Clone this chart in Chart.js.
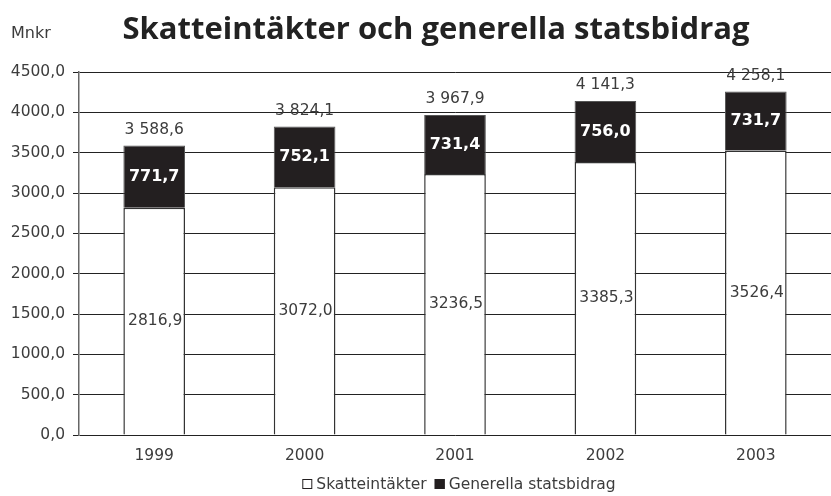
<!DOCTYPE html>
<html>
<head>
<meta charset="utf-8">
<script src="https://cdn.jsdelivr.net/npm/chart.js@4/dist/chart.umd.min.js"></script>
<style>
  html, body { margin: 0; padding: 0; background: #ffffff; }
  #wrap { width: 831px; height: 496px; position: relative; }
</style>
</head>
<body>
<div id="wrap"><canvas id="c" width="831" height="496"></canvas></div>
<script>
// Årtal och belopp (Mnkr)
const years = ['1999', '2000', '2001', '2002', '2003'];
const skatteintakter = [2816.9, 3072.0, 3236.5, 3385.3, 3526.4];
const statsbidrag = [771.7, 752.1, 731.4, 756.0, 731.7];
const yTicks = [0, 500, 1000, 1500, 2000, 2500, 3000, 3500, 4000, 4500];
const seriesNames = ['Skatteintäkter', 'Generella statsbidrag'];

const TEXT = '#3c3c3c';
const BASE_FONT = '"DejaVu Sans", "Open Sans", sans-serif';
const TITLE_FONT = '"Open Sans", "DejaVu Sans", sans-serif';

function fmtComma(v) { return v.toFixed(1).replace('.', ','); }
function fmtTotal(v) {
  const parts = v.toFixed(1).split('.');
  const intPart = parts[0].replace(/\B(?=(\d{3})+(?!\d))/g, ' ');
  return intPart + ',' + parts[1];
}

// Rubrik, enhet, värdeetiketter och teckenförklaring
const labelPlugin = {
  id: 'labels',
  afterDatasetsDraw(chart) {
    const ctx = chart.ctx;
    const y = chart.scales.y;
    ctx.save();
    // Rubrik
    ctx.fillStyle = '#222222';
    ctx.textAlign = 'center';
    ctx.textBaseline = 'middle';
    ctx.font = 'bold 31px ' + TITLE_FONT;
    ctx.fillText('Skatteintäkter och generella statsbidrag', 436, 30);
    ctx.font = '16px ' + BASE_FONT;
    ctx.textAlign = 'left';
    ctx.fillStyle = TEXT;
    ctx.fillText('Mnkr', 11, 34);

    const m0 = chart.getDatasetMeta(0);
    years.forEach((yr, i) => {
      const x = m0.data[i].x;
      const a = skatteintakter[i];
      const b = statsbidrag[i];
      // Skatteintäkter, mitt i den vita stapeln
      ctx.fillStyle = TEXT;
      ctx.textAlign = 'center';
      ctx.font = '15.5px ' + BASE_FONT;
      ctx.fillText(fmtComma(a), x + 1, (y.getPixelForValue(0) + y.getPixelForValue(a)) / 2);
      // Statsbidrag, vit fet text i den svarta delen
      ctx.fillStyle = '#ffffff';
      ctx.font = 'bold 16px ' + BASE_FONT;
      ctx.fillText(fmtComma(b), x, (y.getPixelForValue(a) + y.getPixelForValue(a + b)) / 2);
      // Summa ovanför stapeln
      ctx.fillStyle = TEXT;
      ctx.font = '15.5px ' + BASE_FONT;
      ctx.fillText(fmtTotal(a + b), x, y.getPixelForValue(a + b) - 16);
    });

    // Teckenförklaring
    ctx.font = '15.5px ' + BASE_FONT;
    ctx.textAlign = 'left';
    ctx.textBaseline = 'alphabetic';
    const box = 10, gapBox = 4, gapItem = 8;
    const w0 = ctx.measureText(seriesNames[0]).width;
    const w1 = ctx.measureText(seriesNames[1]).width;
    const total = box + gapBox + w0 + gapItem + box + gapBox + w1;
    let lx = 459 - total / 2;
    const base = 489;
    const fills = ['#ffffff', '#231f20'];
    seriesNames.forEach((name, k) => {
      ctx.fillStyle = fills[k];
      ctx.fillRect(lx, base - box, box, box);
      ctx.strokeStyle = '#231f20';
      ctx.lineWidth = 1;
      ctx.strokeRect(lx + 0.5, base - box + 0.5, box - 1, box - 1);
      lx += box + gapBox;
      ctx.fillStyle = TEXT;
      ctx.fillText(name, lx, base);
      lx += (k === 0 ? w0 : w1) + gapItem;
    });
    ctx.restore();
  }
};

new Chart(document.getElementById('c'), {
  type: 'bar',
  data: {
    labels: years,
    datasets: [
      {
        label: seriesNames[0],
        data: skatteintakter,
        backgroundColor: '#ffffff',
        borderColor: '#333333',
        borderWidth: 1.5,
        borderSkipped: 'bottom'
      },
      {
        label: seriesNames[1],
        data: statsbidrag,
        backgroundColor: '#231f20',
        borderColor: '#555555',
        borderWidth: 1,
        borderSkipped: 'bottom'
      }
    ]
  },
  options: {
    responsive: false,
    animation: false,
    devicePixelRatio: 1,
    layout: { padding: { top: 72, right: 0, left: 0, bottom: 21 } },
    datasets: { bar: { categoryPercentage: 1.0, barPercentage: 0.41 } },
    plugins: {
      legend: { display: false },
      tooltip: { enabled: false },
      title: { display: false }
    },
    scales: {
      x: {
        stacked: true,
        afterFit(scale) { scale.height = 40; },
        grid: { display: false, drawTicks: false },
        border: { display: false },
        ticks: { color: TEXT, font: { family: BASE_FONT, size: 15.5 }, padding: 12 }
      },
      y: {
        stacked: true,
        min: 0,
        max: 4500,
        afterBuildTicks(scale) { scale.ticks = yTicks.map(v => ({ value: v })); },
        afterFit(scale) { scale.width = 79; },
        grid: { color: '#222222', lineWidth: 1, tickLength: 6 },
        border: { color: '#666666', width: 1.5 },
        ticks: {
          color: TEXT,
          font: { family: BASE_FONT, size: 15.5 },
          padding: 8,
          callback: (v) => fmtComma(v)
        }
      }
    }
  },
  plugins: [labelPlugin]
});
</script>
</body>
</html>
